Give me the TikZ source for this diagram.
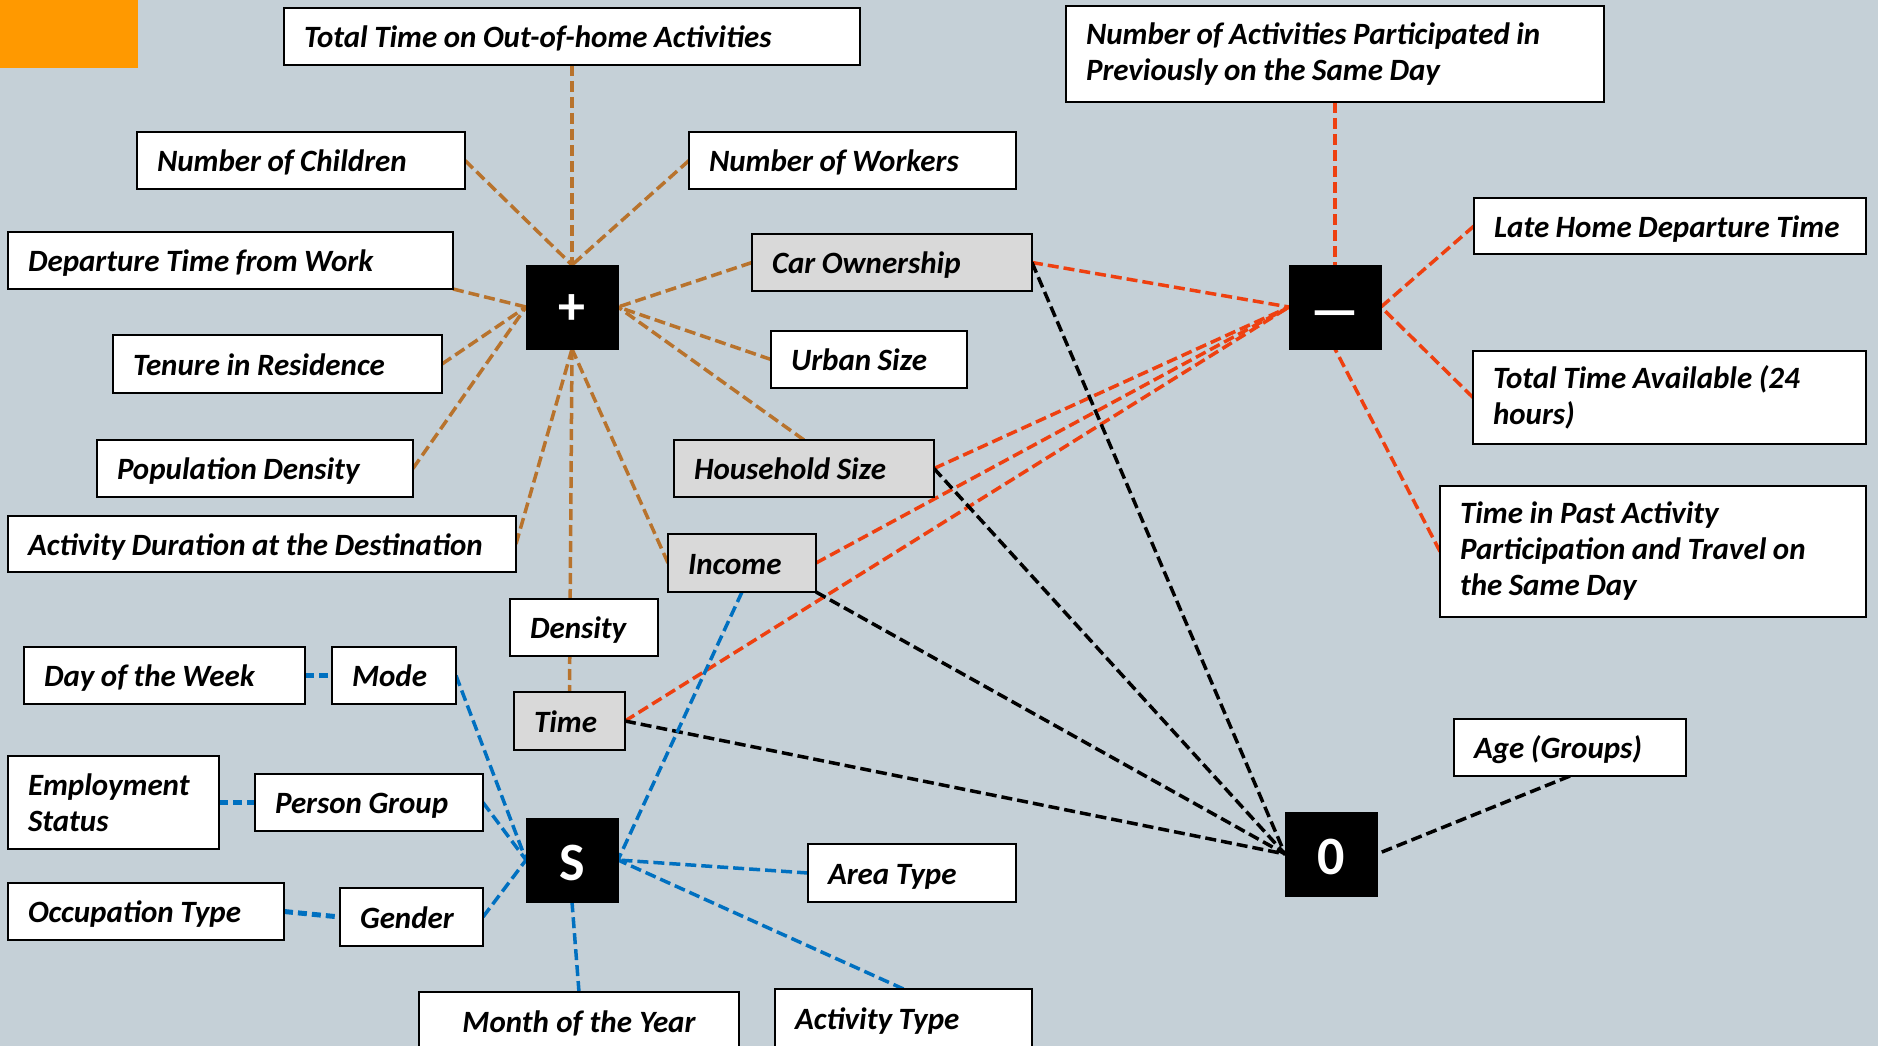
\documentclass[tikz,border=0pt]{standalone}
\usepackage{fontspec}
\setmainfont{Carlito}

\definecolor{canvas}{RGB}{197,208,215}
\definecolor{tabtone}{RGB}{255,153,0}
\definecolor{boxgray}{RGB}{217,217,217}
\definecolor{plusbrown}{RGB}{184,115,45}
\definecolor{minusred}{RGB}{238,64,16}
\definecolor{sblue}{RGB}{0,112,192}

\newcommand\varfont{\fontsize{31}{36}\selectfont\bfseries\itshape}
\newcommand\hubfont{\fontsize{54}{60}\selectfont\bfseries}

\pgfdeclarelayer{links}
\pgfsetlayers{links,main}

\tikzset{
  varlines/.style={draw, line width=2pt, fill=white, anchor=north west,
    inner xsep=20pt, inner ysep=0pt, outer sep=0pt, align=left, font=\varfont,
    execute at begin node={\spaceskip=6.5pt plus 2pt minus 1pt\xspaceskip=7pt\hyphenpenalty=10000\relax}},
  var/.style={varlines, text height=26pt, text depth=4pt},
  shaded/.style={var, fill=boxgray},
  hub/.style={draw, fill=black, anchor=north west, text=white, font=\hubfont,
    minimum width=92pt, minimum height=84pt, inner sep=0pt, outer sep=0pt,
    text height=40pt, text depth=0pt},
  link/.style={line width=3.5pt, dash pattern=on 11pt off 5pt},
  pluslink/.style={link, draw=plusbrown},
  minuslink/.style={link, draw=minusred},
  zerolink/.style={link, draw=black},
  slink/.style={link, draw=sblue},
  pairlink/.style={slink, line width=5pt, dash pattern=on 9pt off 5pt}
}

\begin{document}
\begin{tikzpicture}[x=1pt, y=-1pt]
  \useasboundingbox (0,0) rectangle (1878,1046);
  \fill[tabtone] (0,0) rectangle (138,68);

  % the four hubs
  \node (plus) at (526,265) [hub, text height=34pt] {+};
  \node (minus) at (1289,265) [hub, text height=42pt] {—};
  \node (S) at (526,818) [hub] {S};
  \node (zero) at (1285,812) [hub] {0};

  % variables round the + hub
  \node (total) at (284,8) [var, text width=536pt, minimum height=57pt] {Total Time on Out-of-home Activities};
  \node (kids) at (137,132) [var, text width=288pt, minimum height=57pt] {Number of Children};
  \node (workers) at (689,132) [var, text width=287pt, minimum height=57pt] {Number of Workers};
  \node (depart) at (8,232) [var, text width=405pt, minimum height=57pt] {Departure Time from Work};
  \node (car) at (752,234) [shaded, text width=240pt, minimum height=57pt] {Car Ownership};
  \node (tenure) at (113,335) [var, text width=289pt, minimum height=58pt] {Tenure in Residence};
  \node (urban) at (771,331) [var, text width=156pt, minimum height=57pt] {Urban Size};
  \node (popdens) at (97,440) [var, text width=276pt, minimum height=57pt] {Population Density};
  \node (hhsize) at (674,440) [shaded, text width=220pt, minimum height=57pt] {Household Size};
  \node (actdur) at (8,516) [var, text width=468pt, minimum height=56pt] {Activity Duration at the Destination};
  \node (income) at (668,534) [shaded, text width=108pt, minimum height=58pt] {Income};
  \node (density) at (510,599) [var, text width=108pt, minimum height=57pt] {Density};
  \node (time) at (514,692) [shaded, text width=71pt, minimum height=58pt] {Time};

  % variables round the S hub
  \node (dow) at (24,647) [var, text width=241pt, minimum height=57pt] {Day of the Week};
  \node (mode) at (332,647) [var, text width=84pt, minimum height=57pt] {Mode};
  \node (employ) at (8,756) [varlines, text width=171pt, minimum height=93pt] {Employment\\Status};
  \node (pgroup) at (255,774) [var, text width=188pt, minimum height=57pt] {Person Group};
  \node (occup) at (8,883) [var, text width=236pt, minimum height=57pt] {Occupation Type};
  \node (gender) at (340,888) [var, text width=103pt, minimum height=58pt] {Gender};
  \node (area) at (808,844) [var, text width=168pt, minimum height=58pt] {Area Type};
  \node (month) at (419,992) [var, text width=280pt, minimum height=58pt, align=center] {Month of the Year};
  \node (acttype) at (775,989) [var, text width=217pt, minimum height=58pt] {Activity Type};

  % variables round the - and 0 hubs
  \node (nact) at (1066,6) [varlines, text width=498pt, minimum height=96pt] {Number of Activities Participated in\\Previously on the Same Day};
  \node (late) at (1474,198) [var, text width=352pt, minimum height=56pt] {Late Home Departure Time};
  \node (avail) at (1473,351) [varlines, text width=353pt, minimum height=93pt] {Total Time Available (24\\hours)};
  \node (past) at (1440,486) [varlines, text width=386pt, minimum height=131pt] {Time in Past Activity\\Participation and Travel on\\the Same Day};
  \node (age) at (1454,719) [var, text width=192pt, minimum height=57pt] {Age (Groups)};

  \begin{pgfonlayer}{links}
    \fill[canvas] (0,0) rectangle (1878,1046);
    % + links
    \draw[pluslink] (total.south) -- (plus.north);
    \draw[pluslink] (kids.east) -- (plus.north);
    \draw[pluslink] (workers.west) -- (plus.north);
    \draw[pluslink] (depart.south east) -- (plus.west);
    \draw[pluslink] (tenure.east) -- (plus.west);
    \draw[pluslink] (popdens.east) -- (plus.west);
    \draw[pluslink] (car.west) -- (plus.east);
    \draw[pluslink] (urban.west) -- (plus.east);
    \draw[pluslink] (hhsize.north) -- (plus.east);
    \draw[pluslink] (actdur.east) -- (plus.south);
    \draw[pluslink] (income.west) -- (plus.south);
    \draw[pluslink] (plus.south) -- (time.north);
    % - links
    \draw[minuslink] (nact.south) -- (minus.north);
    \draw[minuslink] (late.west) -- (minus.east);
    \draw[minuslink] (avail.west) -- (minus.east);
    \draw[minuslink] (past.west) -- (minus.south);
    \draw[minuslink] (car.east) -- (minus.west);
    \draw[minuslink] (hhsize.east) -- (minus.west);
    \draw[minuslink] (income.east) -- (minus.west);
    \draw[minuslink] (time.east) -- (minus.west);
    % 0 links
    \draw[zerolink] (car.east) -- (zero.west);
    \draw[zerolink] (hhsize.east) -- (zero.west);
    \draw[zerolink] (income.south east) -- (zero.west);
    \draw[zerolink] (time.east) -- (zero.west);
    \draw[zerolink] (age.south) -- (zero.east);
    % S links
    \draw[pairlink] (dow.east) -- (mode.west);
    \draw[pairlink] (employ.east) -- (pgroup.west);
    \draw[pairlink] (occup.east) -- (gender.west);
    \draw[slink] (mode.east) -- (S.west);
    \draw[slink] (pgroup.east) -- (S.west);
    \draw[slink] (gender.east) -- (S.west);
    \draw[slink] (income.south) -- (S.east);
    \draw[slink] (area.west) -- (S.east);
    \draw[slink] (month.north) -- (S.south);
    \draw[slink] (acttype.north) -- (S.east);
  \end{pgfonlayer}
\end{tikzpicture}
\end{document}
